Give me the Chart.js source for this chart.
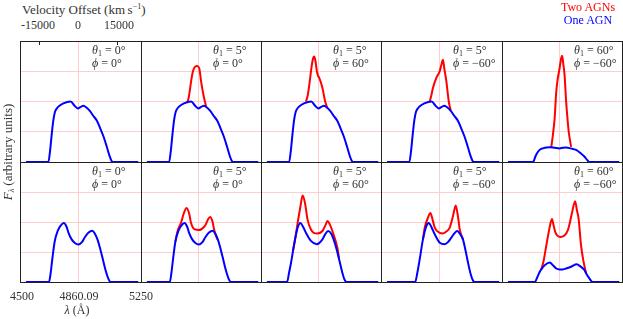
<!DOCTYPE html>
<html>
<head>
<meta charset="utf-8">
<script src="https://cdn.jsdelivr.net/npm/chart.js@4/dist/chart.umd.min.js"></script>
<style>
  html, body { margin:0; padding:0; background:#fff; }
  body { width:623px; height:319px; position:relative; overflow:hidden; font-family:"Liberation Serif", serif; color:#1a1a1a; font-weight:normal; }
  canvas { position:absolute; }
  .t { position:absolute; white-space:nowrap; font-size:12px; line-height:13px; font-weight:normal; }
  .c { transform:translateX(-50%); }
  sub, sup { font-size:8px; line-height:0; }
  sub { vertical-align:-2px; }
  sup { vertical-align:5px; }
</style>
</head>
<body>
<script>
// ---- data (wavelength in Å, flux in arbitrary units) ----
const panelTheta = ["0°", "5°", "5°", "5°", "60°"];
const panelPhi   = ["0°", "0°", "60°", "−60°", "−60°"];
const velocityTicks = [-15000, 0, 15000];
const waveTickLabels = ["4500", "4860.09", "5250"];
const restWave = 4860.09;

// one AGN, top row (panels 1-4)
const blueTop = [[4537,0],[4676,0],[4686,0.35],[4696,0.88],[4707,1.39],[4717,1.66],[4738,1.83],[4769,1.94],[4814,2.0],[4838,1.86],[4858,1.77],[4876,1.82],[4893,1.86],[4912,1.8],[4934,1.68],[4955,1.52],[4975,1.38],[4996,1.13],[5017,0.85],[5037,0.52],[5055,0.2],[5068,0.03],[5075,0],[5233,0]];
const blueTop5 = [[4537,0],[4694,0],[4710,0.2],[4725,0.34],[4740,0.42],[4756,0.45],[4778,0.48],[4798,0.49],[4830,0.47],[4860,0.45],[4880,0.47],[4901,0.48],[4930,0.45],[4963,0.4],[4990,0.3],[5015,0.18],[5032,0.07],[5046,0],[5233,0]];
// two AGNs, top row (only where it departs from one AGN)
const redTop2 = [[4787,1.95],[4797,2.1],[4804,2.32],[4814,2.7],[4824,2.98],[4835,3.13],[4850,3.17],[4864,3.1],[4876,2.65],[4891,2.2],[4907,1.83]];
const redTop3 = [[4781,2.0],[4792,2.2],[4802,2.56],[4818,3.22],[4827,3.45],[4833,3.49],[4840,3.35],[4849,3.0],[4857,2.85],[4864,2.78],[4884,2.45],[4901,2.0],[4915,1.78]];
const redTop4 = [[4802,2.0],[4812,2.2],[4822,2.45],[4843,2.78],[4864,3.0],[4876,3.25],[4884,3.38],[4892,3.1],[4905,2.67],[4920,2.0],[4932,1.7]];
const redTop5 = [[4808,0.5],[4818,0.89],[4829,1.44],[4839,2.32],[4849,2.77],[4860,3.1],[4870,3.43],[4876,3.51],[4884,3.2],[4891,2.88],[4901,1.99],[4911,1.33],[4917,1.0],[4932,0.5]];

// one AGN, bottom row
const blueBot = [[4537,0],[4680,0],[4690,0.3],[4700,0.75],[4715,1.35],[4735,1.72],[4752,1.88],[4772,1.97],[4788,1.85],[4802,1.62],[4820,1.42],[4840,1.3],[4862,1.25],[4884,1.33],[4903,1.5],[4925,1.65],[4948,1.71],[4965,1.6],[4980,1.42],[4995,1.15],[5007,0.9],[5030,0.4],[5050,0.08],[5062,0],[5233,0]];
const blueBot3 = [[4537,0],[4663,0],[4675,0.3],[4688,0.65],[4709,1.31],[4729,1.81],[4746,1.97],[4762,1.85],[4781,1.64],[4812,1.37],[4849,1.26],[4884,1.42],[4900,1.58],[4920,1.7],[4940,1.6],[4957,1.37],[4972,1.1],[4988,0.76],[5008,0.32],[5022,0.08],[5035,0],[5233,0]];
const blueBot4 = [[4537,0],[4712,0],[4725,0.3],[4740,0.76],[4760,1.42],[4781,1.86],[4796,1.97],[4815,1.8],[4833,1.59],[4864,1.31],[4895,1.26],[4915,1.33],[4936,1.48],[4955,1.62],[4973,1.7],[4990,1.6],[5008,1.42],[5022,1.1],[5035,0.76],[5056,0.26],[5070,0.05],[5081,0],[5233,0]];
const blueBot5 = [[4537,0],[4705,0],[4720,0.15],[4736,0.34],[4752,0.47],[4767,0.56],[4798,0.65],[4820,0.55],[4839,0.45],[4860,0.42],[4880,0.42],[4905,0.46],[4932,0.51],[4967,0.59],[4990,0.52],[5015,0.4],[5030,0.25],[5046,0.12],[5066,0],[5233,0]];
// two AGNs, bottom row
const redBot2 = [[4715,1.35],[4730,1.72],[4750,1.97],[4768,2.3],[4785,2.47],[4802,2.26],[4812,1.98],[4833,1.76],[4864,1.73],[4895,1.84],[4905,1.92],[4920,2.1],[4932,2.17],[4946,2.03],[4957,1.75],[4977,1.42]];
const redBot3 = [[4700,1.05],[4713,1.42],[4729,1.97],[4746,2.5],[4760,2.88],[4775,2.63],[4791,2.08],[4812,1.75],[4830,1.64],[4853,1.62],[4884,1.7],[4905,1.92],[4915,2.03],[4930,1.92],[4953,1.59],[4977,1.15],[4988,0.78]];
const redBot4 = [[4760,1.42],[4771,1.81],[4791,2.14],[4806,2.3],[4822,2.03],[4833,1.81],[4864,1.64],[4884,1.62],[4905,1.68],[4926,1.81],[4946,2.19],[4963,2.55],[4977,2.19],[4988,1.75],[5008,1.42]];
const redBot5 = [[4746,0.42],[4760,0.7],[4777,1.22],[4798,1.83],[4812,2.1],[4822,1.9],[4833,1.66],[4864,1.5],[4890,1.55],[4911,1.72],[4925,2.0],[4938,2.32],[4957,2.69],[4968,2.4],[4979,2.1],[4994,1.22],[5010,0.67],[5025,0.3]];

const rows = [
  { blue:[blueTop, blueTop, blueTop, blueTop, blueTop5], red:[null, redTop2, redTop3, redTop4, redTop5] },
  { blue:[blueBot, blueBot, blueBot3, blueBot4, blueBot5], red:[null, redBot2, redBot3, redBot4, redBot5] }
];

// ---- layout ----
const colLeft = [20, 141, 261, 381, 502];
const colWidth = [121, 120, 120, 121, 120];
const rowTop = [41, 162];
const rowHeight = [121, 120];
const XMIN = 4500, XMAX = 5250, YMIN = 0, YMAX = 4;

function toXY(arr){ return arr.map(p => ({x:p[0], y:p[1]})); }

const framePlugin = {
  id:'frame',
  beforeDatasetsDraw(chart){
    const a = chart.chartArea, c = chart.ctx;
    c.save();
    c.strokeStyle = '#222'; c.lineWidth = 1;
    c.strokeRect(Math.round(a.left)+0.5, Math.round(a.top)+0.5, Math.round(a.right-a.left), Math.round(a.bottom-a.top));
    if (chart.options.velTicks) {
      const xs = chart.scales.x;
      velocityTicks.forEach(v => {
        if (v === 0) return;
        const lam = restWave * (1 + v/299792.458);
        const px = Math.round(xs.getPixelForValue(lam)) + 0.5;
        c.beginPath(); c.moveTo(px, a.top); c.lineTo(px, a.top + 4); c.stroke();
      });
    }
    c.restore();
  }
};

function makePanel(r, k){
  const cv = document.createElement('canvas');
  const w = colWidth[k] + 2, h = rowHeight[r] + 2;
  cv.width = w; cv.height = h;
  cv.style.left = colLeft[k] + 'px';
  cv.style.top = rowTop[r] + 'px';
  cv.style.width = w + 'px'; cv.style.height = h + 'px';
  document.body.appendChild(cv);
  const ds = [{
    data: toXY(rows[r].blue[k]), showLine:true, borderColor:'#0000ff', backgroundColor:'#0000ff',
    borderWidth:2, pointRadius:0, cubicInterpolationMode:'monotone', fill:false
  }];
  if (rows[r].red[k]) ds.push({
    data: toXY(rows[r].red[k]), showLine:true, borderColor:'#ff0000', backgroundColor:'#ff0000',
    borderWidth:2, pointRadius:0, cubicInterpolationMode:'monotone', fill:false
  });
  new Chart(cv, {
    type:'scatter',
    data:{ datasets: ds },
    options:{
      responsive:false, animation:false, events:[], devicePixelRatio:1,
      velTicks: (r === 0 && k === 0),
      layout:{ padding:{ left:0, top:0, right:2, bottom:2 } },
      plugins:{ legend:{display:false}, tooltip:{enabled:false} },
      scales:{
        x:{ type:'linear', min:XMIN, max:XMAX,
            afterBuildTicks: s => { s.ticks = [{value:restWave}]; },
            afterFit: s => { s.height = 0; },
            ticks:{ display:false }, border:{ display:false },
            grid:{ color:'#ffcdcd', lineWidth:1, drawTicks:false } },
        y:{ type:'linear', min:YMIN, max:YMAX,
            afterBuildTicks: s => { s.ticks = [1,2,3].map(v => ({value:v})); },
            afterFit: s => { s.width = 0; },
            ticks:{ display:false }, border:{ display:false },
            grid:{ color:'#ffcdcd', lineWidth:1, drawTicks:false } }
      }
    },
    plugins:[framePlugin]
  });
  const lab = document.createElement('div');
  lab.className = 't';
  lab.style.left = (colLeft[k] + 72) + 'px';
  lab.style.top = (rowTop[r] + 3) + 'px';
  lab.style.color = '#333';
  lab.innerHTML = '<i>θ</i><sub>1</sub> = ' + panelTheta[k] + '<br><i>ϕ</i> = ' + panelPhi[k];
  document.body.appendChild(lab);
}

function addText(html, left, top, cls, style){
  const d = document.createElement('div');
  d.className = 't ' + (cls || '');
  d.style.left = left + 'px'; d.style.top = top + 'px';
  if (style) Object.assign(d.style, style);
  d.innerHTML = html;
  document.body.appendChild(d);
  return d;
}

for (let r = 0; r < 2; r++) for (let k = 0; k < 5; k++) makePanel(r, k);

// header, legend, axis labels
addText('Velocity Offset (km&#8201;s<sup>−1</sup>)', 22, 3, '', {fontSize:'13px', lineHeight:'14px', color:'#333'});
const velCenters = [38, 78, 119];
velocityTicks.forEach((v,i) => addText(String(v), velCenters[i], 19, 'c', {color:'#333'}));
addText('Two AGNs', 588, 1, 'c', {color:'#ff0000'});
addText('One AGN', 588, 14, 'c', {color:'#0000ff'});
const waveCenters = [22, 79, 141];
waveTickLabels.forEach((t,i) => addText(t, waveCenters[i], 290, 'c', {color:'#333'}));
addText('<i>λ</i> (Å)', 77, 304, 'c', {color:'#333'});
addText('<i>F</i><sub><i>λ</i></sub> (arbitrary units)', 7, 152, '', {fontSize:'13px', color:'#333', transform:'translate(-50%,-50%) rotate(-90deg)'});
</script>
</body>
</html>
